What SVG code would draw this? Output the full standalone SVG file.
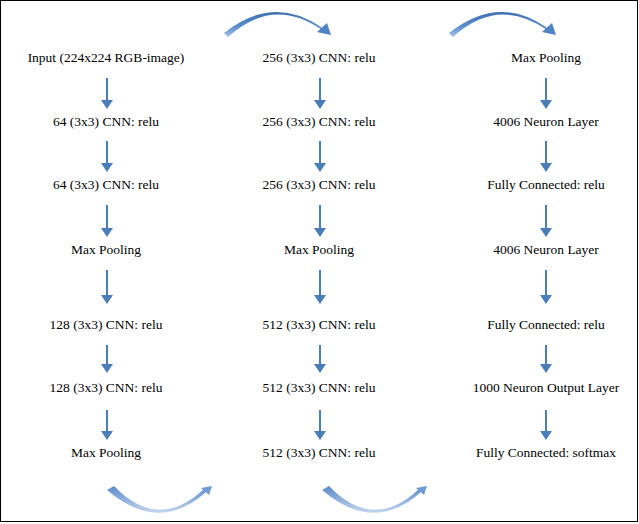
<svg xmlns="http://www.w3.org/2000/svg" xmlns:xlink="http://www.w3.org/1999/xlink" width="639" height="524" viewBox="0 0 639 524">
<style>
.t{font-family:'Liberation Serif','Times New Roman',serif;font-size:13.5px;fill:#000;text-anchor:middle}
.v{stroke:#4a7ebb;stroke-width:2;fill:none}
.h{fill:#4a7ebb}
</style>
<defs>
<linearGradient id="gt" x1="0" y1="0" x2="0" y2="1">
<stop offset="0" stop-color="#3f6fb0"/>
<stop offset="0.6" stop-color="#5b8fd0"/>
<stop offset="1" stop-color="#a9c3e6"/>
</linearGradient>
<linearGradient id="gb" x1="0" y1="0" x2="0" y2="1">
<stop offset="0" stop-color="#5a8ac8"/>
<stop offset="0.5" stop-color="#8fb0dc"/>
<stop offset="1" stop-color="#c3d5ee"/>
</linearGradient>
<g id="arcTop">
<path d="M224,33 Q273,-6 321,27 L323,29 L322,30 Q273,-4 228,37 Z" fill="url(#gt)"/>
<polygon points="317,32 327,23 331,35" fill="#4f83c4"/>
</g>
<g id="arcBot">
<path d="M107,490 Q158,534 205,493 L206,491 L204,489 Q158,532 114,486 Z" fill="url(#gb)"/>
<polygon points="201,488 209,495 212,486" fill="#6f9bd6"/>
</g>
<g id="va">
<polygon points="-6,-9 6,-9 0,0" class="h"/>
</g>
</defs>
<rect x="0.5" y="0.5" width="637" height="521" fill="#fff" stroke="#000" stroke-width="1"/>
<g id="connectors">
<use xlink:href="#arcTop"/>
<use xlink:href="#arcTop" transform="translate(225,0)"/>
<use xlink:href="#arcBot"/>
<use xlink:href="#arcBot" transform="translate(215,0)"/>
<g id="col1-arrows">
<path class="v" d="M107,78V101M107,141V164M107,205V229M107,270V296M107,345V365M107,410V432"/>
<use xlink:href="#va" transform="translate(107,109)"/>
<use xlink:href="#va" transform="translate(107,172)"/>
<use xlink:href="#va" transform="translate(107,237)"/>
<use xlink:href="#va" transform="translate(107,304)"/>
<use xlink:href="#va" transform="translate(107,373)"/>
<use xlink:href="#va" transform="translate(107,440)"/>
</g>
<g id="col2-arrows">
<path class="v" d="M320,78V101M320,141V164M320,205V229M320,270V296M320,345V365M320,410V432"/>
<use xlink:href="#va" transform="translate(320,109)"/>
<use xlink:href="#va" transform="translate(320,172)"/>
<use xlink:href="#va" transform="translate(320,237)"/>
<use xlink:href="#va" transform="translate(320,304)"/>
<use xlink:href="#va" transform="translate(320,373)"/>
<use xlink:href="#va" transform="translate(320,440)"/>
</g>
<g id="col3-arrows">
<path class="v" d="M546,78V101M546,141V164M546,205V229M546,270V296M546,345V365M546,410V432"/>
<use xlink:href="#va" transform="translate(546,109)"/>
<use xlink:href="#va" transform="translate(546,172)"/>
<use xlink:href="#va" transform="translate(546,237)"/>
<use xlink:href="#va" transform="translate(546,304)"/>
<use xlink:href="#va" transform="translate(546,373)"/>
<use xlink:href="#va" transform="translate(546,440)"/>
</g>
</g>
<g id="n1"><text class="t" x="106" y="62">Input (224x224 RGB-image)</text></g>
<g id="n2"><text class="t" x="106" y="126">64 (3x3) CNN: relu</text></g>
<g id="n3"><text class="t" x="106" y="189">64 (3x3) CNN: relu</text></g>
<g id="n4"><text class="t" x="106" y="254">Max Pooling</text></g>
<g id="n5"><text class="t" x="106" y="329">128 (3x3) CNN: relu</text></g>
<g id="n6"><text class="t" x="106" y="392">128 (3x3) CNN: relu</text></g>
<g id="n7"><text class="t" x="106" y="457">Max Pooling</text></g>
<g id="n8"><text class="t" x="319" y="62">256 (3x3) CNN: relu</text></g>
<g id="n9"><text class="t" x="319" y="126">256 (3x3) CNN: relu</text></g>
<g id="n10"><text class="t" x="319" y="189">256 (3x3) CNN: relu</text></g>
<g id="n11"><text class="t" x="319" y="254">Max Pooling</text></g>
<g id="n12"><text class="t" x="319" y="329">512 (3x3) CNN: relu</text></g>
<g id="n13"><text class="t" x="319" y="392">512 (3x3) CNN: relu</text></g>
<g id="n14"><text class="t" x="319" y="457">512 (3x3) CNN: relu</text></g>
<g id="n15"><text class="t" x="546" y="62">Max Pooling</text></g>
<g id="n16"><text class="t" x="546" y="126">4006 Neuron Layer</text></g>
<g id="n17"><text class="t" x="546" y="189">Fully Connected: relu</text></g>
<g id="n18"><text class="t" x="546" y="254">4006 Neuron Layer</text></g>
<g id="n19"><text class="t" x="546" y="329">Fully Connected: relu</text></g>
<g id="n20"><text class="t" x="546" y="392">1000 Neuron Output Layer</text></g>
<g id="n21"><text class="t" x="546" y="457">Fully Connected: softmax</text></g>
</svg>
